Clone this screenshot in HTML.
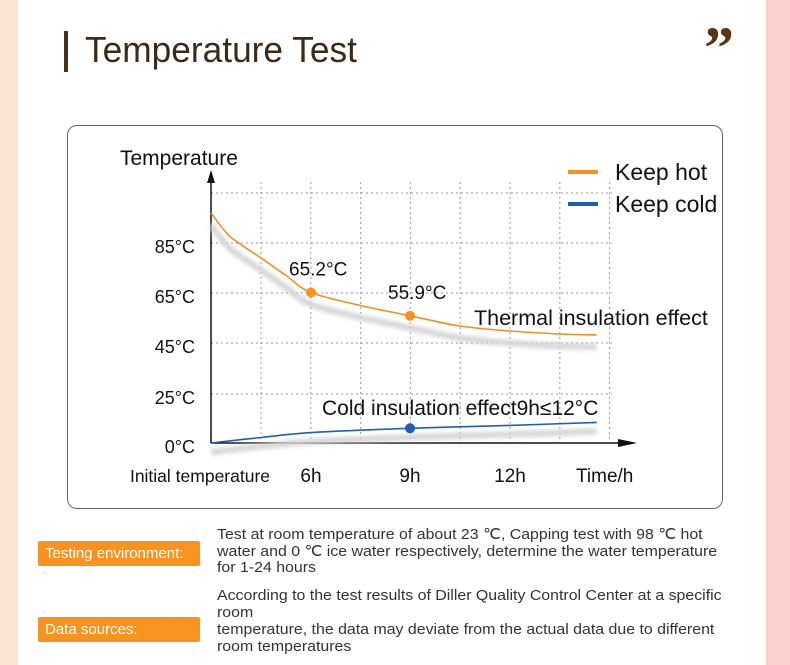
<!DOCTYPE html>
<html><head><meta charset="utf-8">
<style>
body{margin:0;width:790px;height:665px;overflow:hidden;background:#fff;font-family:"Liberation Sans",sans-serif;position:relative}
.abs{position:absolute;white-space:nowrap}
.tag{position:absolute;left:38px;width:162px;height:25px;background:#f7931e;border-radius:2px;color:#fff;font-size:15px;line-height:25px;padding-left:7px;box-sizing:border-box}
.t{position:absolute;left:217px;font-size:15px;color:#333;white-space:nowrap;transform-origin:0 0;transform:scaleX(1.06)}
</style></head><body>
<div class="abs" style="left:0;top:0;width:18px;height:665px;background:#fde3d2"></div>
<div class="abs" style="left:766px;top:0;width:24px;height:665px;background:#f8d2ca"></div>
<div class="abs" style="left:64px;top:31px;width:4px;height:41px;background:#4a3018"></div>
<div class="abs" style="left:85px;top:29px;font-size:36px;color:#3d2a14;transform:scaleX(0.98);transform-origin:0 0">Temperature Test</div>
<div class="abs" style="left:704px;top:18px;font-size:60px;font-weight:bold;color:#5a3514;font-family:'Liberation Serif',serif;line-height:60px">”</div>
<div class="abs" style="left:67px;top:125px;width:654px;height:382px;border:1px solid #666;border-radius:10px"></div>

<svg class="abs" style="left:0;top:0" width="790" height="665">
<defs><filter id="bl"><feGaussianBlur stdDeviation="2"/></filter></defs>
<g id="grid"></g>
<g id="shadows" filter="url(#bl)"></g>
<g id="lines"></g>
<g id="labels" font-family="Liberation Sans, sans-serif" fill="#111"></g>
</svg>

<div class="tag" style="top:541px">Testing environment:</div>
<div class="t" style="top:525px">Test at room temperature of about 23 ℃, Capping test with 98 ℃ hot</div>
<div class="t" style="top:542px">water and 0 ℃ ice water respectively, determine the water temperature</div>
<div class="t" style="top:559px">for 1-24 hours</div>
<div class="tag" style="top:617px">Data sources:</div>
<div class="t" style="top:587px">According to the test results of Diller Quality Control Center at a specific</div>
<div class="t" style="top:604px">room</div>
<div class="t" style="top:621px">temperature, the data may deviate from the actual data due to different</div>
<div class="t" style="top:638px">room temperatures</div>

<script>
const yTicks=[0,25,45,65,85];
const yTickLabels=["0°C","25°C","45°C","65°C","85°C"];
const xTicks=[0,6,9,12];
const xTickLabels=["Initial temperature","6h","9h","12h"];
const hotHours=[0,1,2,3,4.5,6,7.5,9,10.5,12,13.5,14.6];
const hotValues=[97,88.5,83.5,79,72,65.2,60,55.9,51.8,49.8,48.6,48.2];
const coldHours=[0,3,6,9,12,14.6];
const coldValues=[0,2.8,5.3,7.5,9,10.5];
const markedHours=[6,9];
const markedValues=[65.2,55.9];
const markedLabels=["65.2°C","55.9°C"];

const yPix=[443,394,343,293,243];
function y(v){let i=0;while(i<yTicks.length-2&&v>yTicks[i+1])i++;
 return yPix[i]+(v-yTicks[i])*(yPix[i+1]-yPix[i])/(yTicks[i+1]-yTicks[i]);}
const xPix=[211,311,410,510];
function x(h){let i=0;while(i<xTicks.length-2&&h>xTicks[i+1])i++;
 return xPix[i]+(h-xTicks[i])*(xPix[i+1]-xPix[i])/(xTicks[i+1]-xTicks[i]);}
const NS="http://www.w3.org/2000/svg";
function mk(t,a,p){const e=document.createElementNS(NS,t);for(const k in a)e.setAttribute(k,a[k]);p.appendChild(e);return e;}
const G=document.getElementById('grid'),S=document.getElementById('shadows'),L=document.getElementById('lines'),T=document.getElementById('labels');
yPix.slice(1).forEach(p=>{const e=mk('line',{x1:211,x2:612,y1:p,y2:p,stroke:'#aaa','stroke-dasharray':'2 3','stroke-width':1.2},G);
});
mk('line',{x1:211,x2:612,y1:193,y2:193,stroke:'#aaa','stroke-dasharray':'2 3','stroke-width':1.2},G);
for(let gx=261;gx<=612;gx+=49.8){const e=mk('line',{x1:gx,x2:gx,y1:182,y2:443,stroke:'#aaa','stroke-dasharray':'2 3','stroke-width':1.2},G);
}
mk('line',{x1:211,x2:211,y1:180,y2:443,stroke:'#111','stroke-width':1.5},G);
mk('polygon',{points:'207,183 211,170 215,183',fill:'#111'},G);
mk('line',{x1:211,x2:625,y1:443,y2:443,stroke:'#111','stroke-width':1.5},G);
mk('polygon',{points:'618,439 637,443 618,447',fill:'#111'},G);
function path(hs,vs,dy){
 const p=hs.map((h,i)=>[x(h),y(vs[i])+dy]);
 let d='M'+p[0][0].toFixed(1)+','+p[0][1].toFixed(1);
 for(let i=0;i<p.length-1;i++){
  const p0=p[Math.max(0,i-1)],p1=p[i],p2=p[i+1],p3=p[Math.min(p.length-1,i+2)];
  const c1=[p1[0]+(p2[0]-p0[0])/6,p1[1]+(p2[1]-p0[1])/6];
  const c2=[p2[0]-(p3[0]-p1[0])/6,p2[1]-(p3[1]-p1[1])/6];
  d+='C'+c1[0].toFixed(1)+','+c1[1].toFixed(1)+' '+c2[0].toFixed(1)+','+c2[1].toFixed(1)+' '+p2[0].toFixed(1)+','+p2[1].toFixed(1);
 }
 return d;}
mk('path',{d:path(hotHours,hotValues,12),stroke:'#d4d4d4','stroke-width':6,fill:'none'},S);
mk('path',{d:path(coldHours,coldValues,9),stroke:'#d4d4d4','stroke-width':6,fill:'none'},S);
const hp=mk('path',{d:path(hotHours,hotValues,0),stroke:'#f0901e','stroke-width':1.6,fill:'none'},L);

const cp=mk('path',{d:path(coldHours,coldValues,0),stroke:'#1f5db8','stroke-width':1.6,fill:'none'},L);

markedHours.forEach((h,i)=>{const c=mk('circle',{cx:x(h),cy:y(markedValues[i]),r:5,fill:'#f7931e'},L);

const t=mk('text',{x:x(h)-22,y:y(markedValues[i])-17,'font-size':19},T);t.textContent=markedLabels[i];
});
const cc=mk('circle',{cx:x(9),cy:y(coldValues[3]),r:5,fill:'#1f5db8'},L);

yTicks.forEach((v,i)=>{const t=mk('text',{x:195,y:y(v)+10,'font-size':18,'text-anchor':'end'},T);t.textContent=yTickLabels[i];
});
xTicks.forEach((h,i)=>{const t=mk('text',{x:i?x(h):200,y:482,'font-size':i?19:17.5,'text-anchor':'middle'},T);t.textContent=xTickLabels[i];
});
function txt(s,a,n){const t=mk('text',a,T);t.textContent=s;}
txt('Time/h',{x:576,y:482,'font-size':19},'x-axis-title');
txt('Temperature',{x:120,y:165,'font-size':21},'y-axis-title');
txt('Thermal insulation effect',{x:474,y:325,'font-size':21.5},'hot-annotation');
txt('Cold insulation effect9h≤12°C',{x:322,y:415,'font-size':21},'cold-annotation');
mk('line',{x1:568,x2:598,y1:172,y2:172,stroke:'#f7931e','stroke-width':4},L);
mk('line',{x1:568,x2:598,y1:204,y2:204,stroke:'#1f5db8','stroke-width':4},L);
txt('Keep hot',{x:615,y:180,'font-size':23},'legend-keep-hot');
txt('Keep cold',{x:615,y:212,'font-size':23},'legend-keep-cold');
</script>
</body></html>
